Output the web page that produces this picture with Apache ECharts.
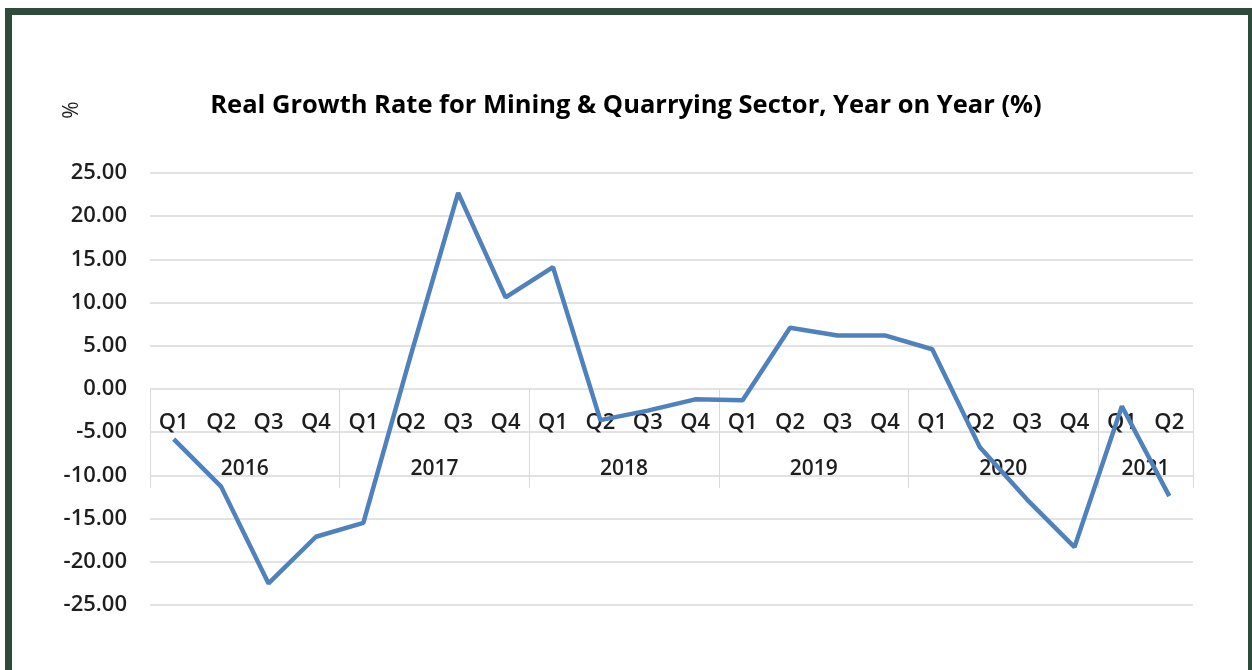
<!DOCTYPE html>
<html lang="en" style="height: 100%">
<head>
  <meta charset="utf-8">
</head>
<body style="height: 100%; margin: 0; background: #fff">
  <div id="container" style="position: absolute; left: 0; top: 0; width: 1252px; height: 670px"></div>
  <div style="position: absolute; left: 5px; top: 8px; width: 1236px; height: 670px; border-top: 7px solid #2e4a3a; border-left: 7px solid #2e4a3a; border-right: 5px solid #2e4a3a; pointer-events: none"></div>

  <script type="text/javascript" src="https://cdn.jsdelivr.net/npm/echarts@6/dist/echarts.min.js"></script>

  <script type="text/javascript">
    var quarters = ['Q1', 'Q2', 'Q3', 'Q4', 'Q1', 'Q2', 'Q3', 'Q4', 'Q1', 'Q2', 'Q3', 'Q4',
                    'Q1', 'Q2', 'Q3', 'Q4', 'Q1', 'Q2', 'Q3', 'Q4', 'Q1', 'Q2'];
    var years = ['2016', '2017', '2018', '2019', '2020', '2021'];
    var yearQuarterCount = [4, 4, 4, 4, 4, 2];
    var growth = [-5.8, -11.3, -22.5, -17.1,
                  -15.5, 3.9, 22.7, 10.6,
                  14.1, -3.6, -2.5, -1.2,
                  -1.3, 7.1, 6.2, 6.2,
                  4.6, -6.7, -12.8, -18.3,
                  -2.0, -12.4];

    // year group boundaries and centres, in quarter units
    var bounds = [0], centres = [];
    yearQuarterCount.forEach(function (n, i) {
      centres.push(bounds[i] + n / 2);
      bounds.push(bounds[i] + n);
    });

    var dom = document.getElementById('container');
    var myChart = echarts.init(dom, null, { renderer: 'canvas' });
    var font = '"Open Sans", Lato, sans-serif';
    var zeroOffset = -216;

    var option = {
      animation: false,
      title: {
        text: 'Real Growth Rate for Mining & Quarrying Sector, Year on Year (%)',
        left: 'center',
        top: 88,
        textStyle: { fontFamily: font, fontSize: 25.5, fontWeight: 'bold', color: '#000' }
      },
      graphic: [{
        type: 'text',
        x: 72, y: 110,
        rotation: Math.PI / 2,
        style: { text: '%', font: '21px ' + font, fill: '#222', align: 'center', verticalAlign: 'middle' }
      }],
      grid: { left: 150, right: 59, top: 173, bottom: 65 },
      xAxis: [{
        type: 'category',
        data: quarters,
        position: 'bottom',
        offset: zeroOffset,
        axisLine: { show: false },
        axisTick: { show: false },
        axisLabel: { margin: 23, fontFamily: font, fontSize: 22, fontWeight: 600, color: '#1e1e1e', interval: 0 }
      }, {
        type: 'value',
        min: 0,
        max: bounds[bounds.length - 1],
        position: 'bottom',
        offset: zeroOffset,
        axisLine: { show: false },
        splitLine: { show: false },
        axisTick: {
          show: true,
          customValues: bounds,
          length: 99,
          lineStyle: { color: '#d9d9d9', width: 1 }
        },
        axisLabel: {
          customValues: centres,
          margin: 70,
          fontFamily: font, fontSize: 21, fontWeight: 600, color: '#1e1e1e',
          formatter: function (v) { return years[centres.indexOf(v)]; }
        }
      }],
      yAxis: {
        type: 'value',
        min: -25,
        max: 25,
        interval: 5,
        axisLine: { show: false },
        axisTick: { show: false },
        splitLine: { lineStyle: { color: '#d9d9d9', width: 1.5 } },
        axisLabel: {
          margin: 23,
          fontFamily: font, fontSize: 22, fontWeight: 600, color: '#1e1e1e',
          formatter: function (v) { return v.toFixed(2); }
        }
      },
      series: [{
        type: 'line',
        xAxisIndex: 0,
        data: growth,
        showSymbol: false,
        lineStyle: { color: '#4f81bd', width: 4.5 },
        itemStyle: { color: '#4f81bd' }
      }]
    };

    myChart.setOption(option);
    window.addEventListener('resize', myChart.resize);
  </script>
</body>
</html>
